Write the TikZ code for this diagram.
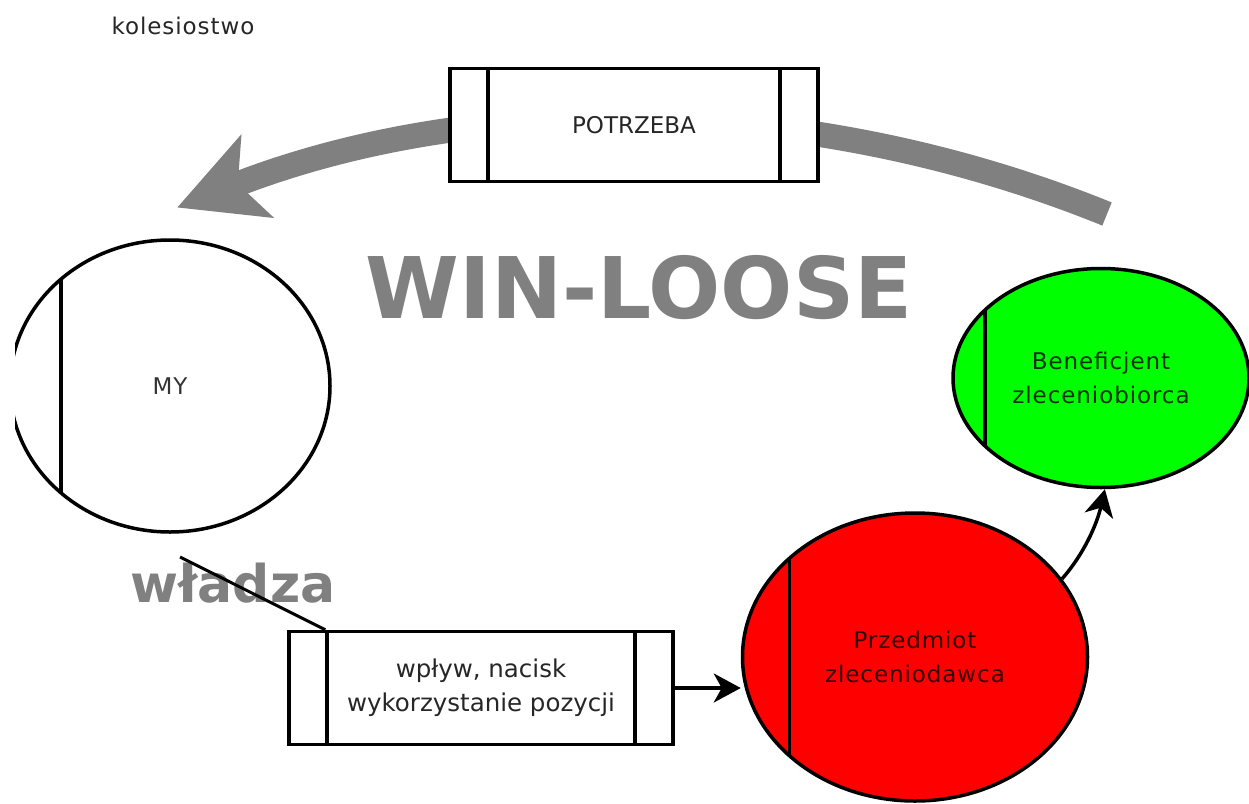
\documentclass[tikz,border=0pt]{standalone}
\usepackage{fontspec}
\setmainfont{DejaVu Sans}
\newfontfamily\spacedfont[LetterSpace=4]{DejaVu Sans}
\usetikzlibrary{arrows.meta, shapes.geometric}

\tikzset{
  procbox/.style={draw, line width=3.5, fill=white, minimum width=#1, minimum height=113,
    inner sep=0, align=center, text opacity=0.85, font=\fontsize{24.5}{34}\selectfont,
    path picture={\draw[line width=3.5]
      ([xshift=38]path picture bounding box.north west) -- ([xshift=38]path picture bounding box.south west)
      ([xshift=-38]path picture bounding box.north east) -- ([xshift=-38]path picture bounding box.south east);}},
  actor/.style={ellipse, draw, line width=3.5, inner sep=0, align=center, text opacity=0.8,
    font=\spacedfont\fontsize{23}{34}\selectfont,
    path picture={\draw[line width=3.5]
      ([xshift=#1]path picture bounding box.north west) -- ([xshift=#1]path picture bounding box.south west);}},
  bigtext/.style={text=gray, inner sep=0, font=\bfseries\fontsize{#1}{#1}\selectfont},
  link/.style={line width=3.5, -{Stealth[length=27pt, width=29pt, inset=8pt]}}
}

\begin{document}
\begin{tikzpicture}[x=1pt, y=-1pt]

  \fill[white] (0,0) rectangle (1249,803);
  \useasboundingbox (0,0) rectangle (1249,803);

  \node[text opacity=0.85, font=\spacedfont\fontsize{23}{26}\selectfont] (kol) at (183,26) {kolesiostwo};

  % big grey arc, behind the box
  \coordinate (needtail) at (1107,214);
  \draw[gray, line width=25, -{Stealth[length=85pt, width=87pt, inset=20pt]}]
    (needtail) arc[start angle=-67.9, end angle=-111.3, radius=1257.5];

  \node[procbox=368, font=\fontsize{23}{34}\selectfont] (need) at (634,125) {POTRZEBA};

  \node[bigtext=85] (wl) at (639,288) {WIN-LOOSE};

  \begin{scope}
    \clip (15,0) rectangle (1249,803);
    \node[actor=51, minimum width=320, minimum height=292] (my) at (170,386) {MY};
  \end{scope}

  \node[actor=32, fill=green, minimum width=296, minimum height=219] (ben) at (1101,378)
    {Beneficjent\\zleceniobiorca};
  \node[actor=47, fill=red, minimum width=345, minimum height=288] (obj) at (915,657)
    {Przedmiot\\zleceniodawca};

  \node[procbox=384] (infl) at (481,688) {wpływ, nacisk\\wykorzystanie pozycji};

  \node[bigtext=52] (pow) at (233,583) {władza};

  \coordinate (powtail) at (180,557);
  \draw[line width=3] (powtail) -- ([xshift=38]infl.north west);

  \draw[link] (infl.east) -- (infl.east -| obj.west);
  \draw[link] (obj.28) .. controls +(22,-25) and +(-8,35) .. (ben.-88);

\end{tikzpicture}
\end{document}
